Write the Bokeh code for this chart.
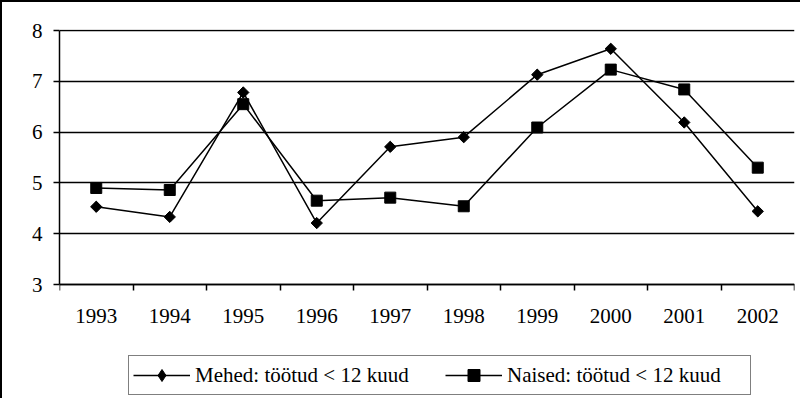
import numpy as np
from bokeh.plotting import figure
from bokeh.models import FixedTicker, Legend, LegendItem, Range1d
from bokeh.embed import file_html
from bokeh.resources import INLINE

years = ["1993", "1994", "1995", "1996", "1997", "1998", "1999", "2000", "2001", "2002"]
mehed = [4.53, 4.33, 6.78, 4.21, 5.71, 5.90, 7.13, 7.64, 6.19, 4.44]
naised = [4.90, 4.86, 6.55, 4.65, 4.71, 4.54, 6.09, 7.23, 6.84, 5.30]
y_ticks = [3, 4, 5, 6, 7, 8]
label_mehed = "Mehed: töötud < 12 kuud"
label_naised = "Naised: töötud < 12 kuud"

FONT = "Liberation Serif"
FS = "21px"
n = len(years)
x = (np.arange(n) + 0.5).tolist()

# layout in canvas pixels
W, H = 800, 398
FL, FR, FT, FB = 57, 792, 27, 396       # frame edges
Y_AX = 282                               # pixel of the lowest y tick (x-axis line)
PX_PER_UNIT = 50.8
y_lo, y_hi = y_ticks[0], y_ticks[-1]
y_max = y_hi + (Y_AX - (y_hi - y_lo) * PX_PER_UNIT - FT) / PX_PER_UNIT
y_min = y_lo - (FB - Y_AX) / PX_PER_UNIT

p = figure(width=W, height=H, output_backend="svg", toolbar_location=None,
           x_range=Range1d(0, n), y_range=Range1d(y_min, y_max),
           min_border_left=FL, min_border_right=W - FR, min_border_top=FT,
           min_border_bottom=H - FB,
           styles={"border-left": "2px solid black", "border-top": "2px solid black"})
p.background_fill_color = "white"
p.border_fill_color = "white"
p.outline_line_color = None

l1 = p.line(x, mehed, line_color="black", line_width=1.5)
# diamond glyph (drawn underneath the wider rotated square; gives the legend icon)
d1 = p.scatter(x, mehed, marker="diamond", size=10,
               fill_color="black", line_color="black")
s1 = p.scatter(x, mehed, marker="square", size=8, angle=np.pi / 4,
               fill_color="black", line_color="black")
l2 = p.line(x, naised, line_color="black", line_width=1.5)
s2 = p.scatter(x, naised, marker="square", size=11,
               fill_color="black", line_color="black")

# x axis: sits at y = 3, labels at category centers, ticks at category boundaries
p.xaxis.fixed_location = y_lo
p.xaxis.ticker = FixedTicker(ticks=x, minor_ticks=list(range(n + 1)))
p.xaxis.major_label_overrides = {xx: yy for xx, yy in zip(x, years)}
p.xaxis.major_tick_out = 0
p.xaxis.major_tick_in = 0
p.xaxis.minor_tick_out = 6
p.xaxis.minor_tick_in = 0
p.xaxis.minor_tick_line_color = "black"
p.xaxis.minor_tick_line_width = 1.5
p.xaxis.major_label_standoff = 18
p.xaxis.axis_line_width = 1.5
p.xaxis.axis_line_color = "black"

p.yaxis.bounds = (y_lo, y_hi)
p.yaxis.ticker = FixedTicker(ticks=y_ticks, minor_ticks=[])
p.yaxis.major_tick_out = 6
p.yaxis.major_tick_in = 0
p.yaxis.major_tick_line_width = 1.5
p.yaxis.major_label_standoff = 11
p.yaxis.axis_line_width = 1.5
p.yaxis.axis_line_color = "black"

for ax in (p.xaxis, p.yaxis):
    ax.major_label_text_font = FONT
    ax.major_label_text_font_size = FS
    ax.major_label_text_color = "black"

p.xgrid.grid_line_color = None
p.ygrid.ticker = FixedTicker(ticks=y_ticks)
p.ygrid.grid_line_color = "black"
p.ygrid.grid_line_width = 1.5

legend = Legend(items=[LegendItem(label=label_mehed, renderers=[l1, d1]),
                       LegendItem(label=label_naised, renderers=[l2, s2])],
                orientation="horizontal", location=(69, 3),
                glyph_width=57, glyph_height=30, label_width=239, label_height=22,
                label_standoff=5, spacing=11, padding=4, margin=0,
                label_text_font=FONT, label_text_font_size=FS,
                label_text_color="black",
                border_line_color="black", border_line_width=1.5,
                background_fill_color="white", background_fill_alpha=1)
p.add_layout(legend, "center")

open("out.html", "w").write(file_html(p, INLINE))
